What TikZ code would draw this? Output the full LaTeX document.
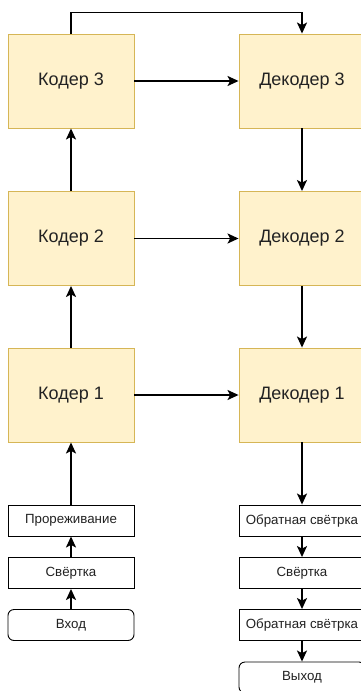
\documentclass[tikz,border=0pt]{standalone}
\usepackage{fontspec}
\setmainfont{Liberation Sans}
\usepackage{xcolor}
\usetikzlibrary{arrows.meta,positioning}
\definecolor{cFill}{HTML}{FFF2CC}
\definecolor{cEdge}{HTML}{D6B656}
\definecolor{cText}{HTML}{222222}
\tikzset{
  arrow/.style={-{Stealth[length=11pt,width=10pt,inset=2.5pt]}, line width=1.5pt, draw=black},
  block/.style={draw=cEdge, fill=cFill, line width=0.9pt, minimum width=126pt, minimum height=94pt,
                inner sep=0pt, text=cText, font=\fontsize{18}{21}\selectfont},
  layer/.style={draw=black, fill=white, line width=0.9pt, minimum width=126pt, minimum height=31pt,
                inner sep=0pt, text=cText, font=\fontsize{13.3}{16}\selectfont},
  io/.style={layer, rounded corners=6pt},
}

\begin{document}
\begin{tikzpicture}[x=1pt,y=-1pt]
        \useasboundingbox (0,0) rectangle (361,691);
        \clip (0,0) rectangle (361,691);
        % encoder column
        \node[block] (k3) at (71,81){Кодер 3};
        \node[block] (k2) at (71,238.5){Кодер 2};
        \node[block] (k1) at (71,395){Кодер 1};
        \node[layer] (pool) at (71,520.5){Прореживание};
        \node[layer] (conv) at (71,573){Свёртка};
        \node[io] (in) at (71,625){Вход};
        % decoder column
        \node[block] (d3) at (302,81){Декодер 3};
        \node[block] (d2) at (302,238.5){Декодер 2};
        \node[block] (d1) at (302,395){Декодер 1};
        \node[layer] (up1) at (302,520.5){Обратная свётрка};
        \node[layer] (conv2) at (302,573){Свёртка};
        \node[layer] (up2) at (302,625){Обратная свётрка};
        \node[io] (out) at (302,677.5){Выход};
        \draw[arrow](in)--(conv); \draw[arrow](conv)--(pool);
        \draw[arrow](pool)--(k1); \draw[arrow](k1)--(k2); \draw[arrow](k2)--(k3);
        \draw[arrow](k3)--(d3); \draw[arrow](k2)--(d2); \draw[arrow](k1)--(d1);
        \draw[arrow](k3.north)--++(0,-21)-|(d3.north);
        \draw[arrow](d3)--(d2); \draw[arrow](d2)--(d1); \draw[arrow](d1)--(up1);
        \draw[arrow](up1)--(conv2); \draw[arrow](conv2)--(up2); \draw[arrow](up2)--(out);
      \end{tikzpicture}
\end{document}
